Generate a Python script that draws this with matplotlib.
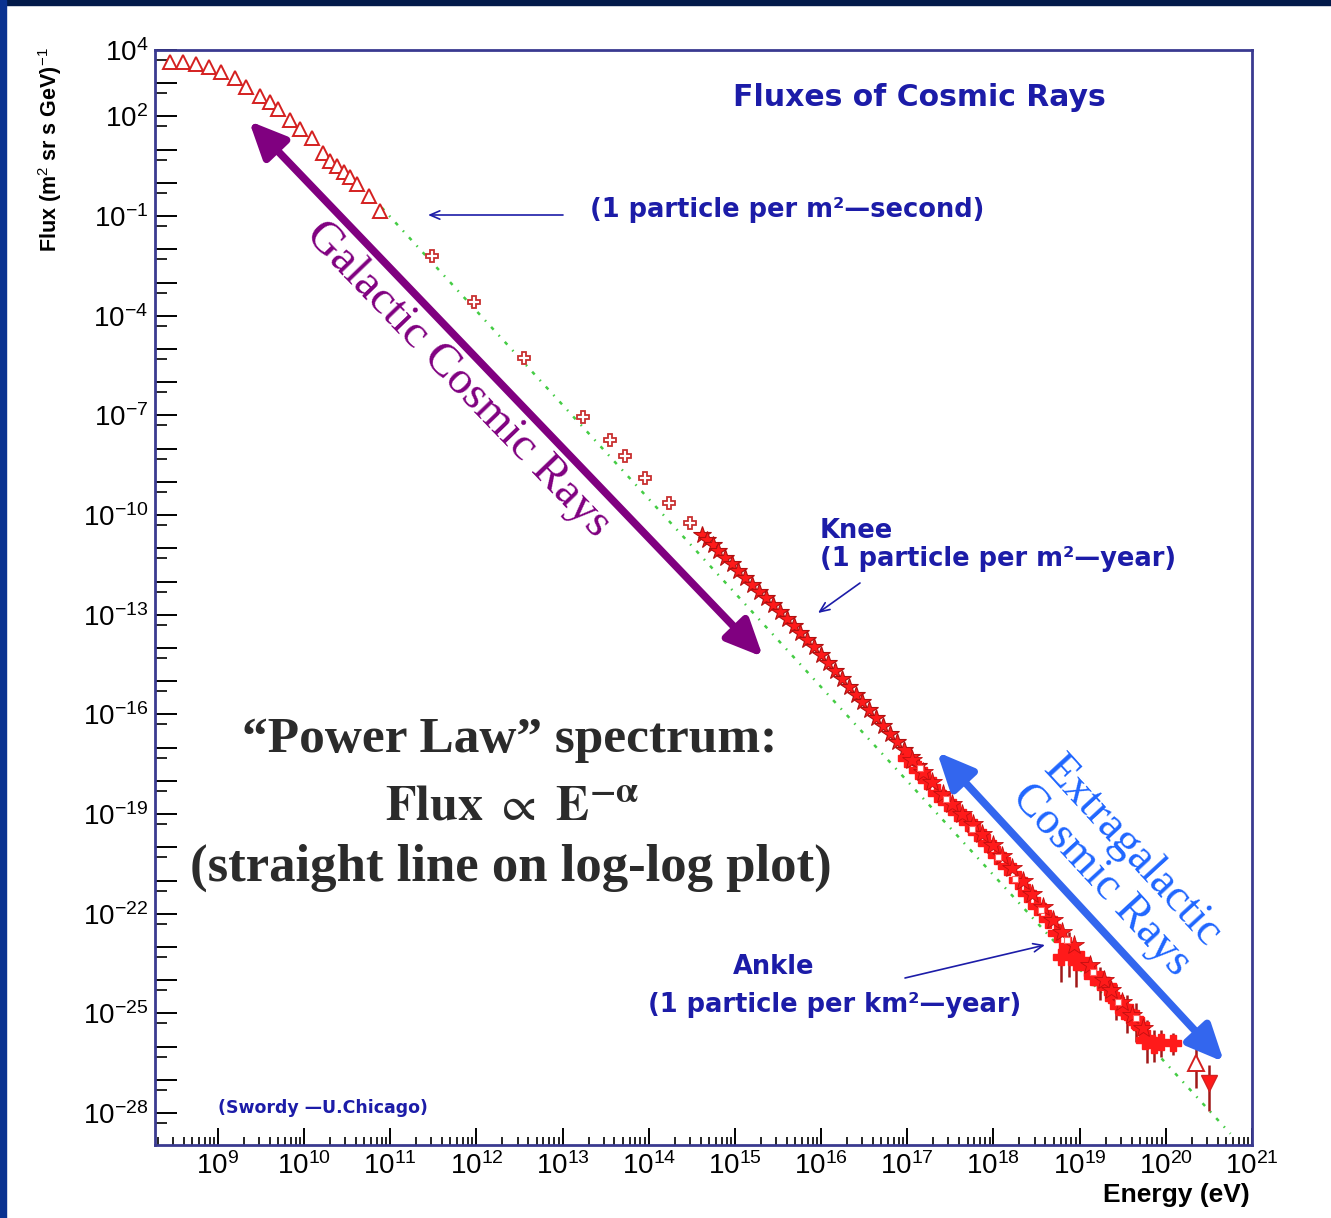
import numpy as np
import matplotlib.pyplot as plt
from matplotlib.patches import Rectangle, FancyArrowPatch
from matplotlib.ticker import LogLocator, FuncFormatter, NullFormatter

plt.rcParams['mathtext.fontset'] = 'custom'
plt.rcParams['mathtext.rm'] = 'Liberation Sans'
plt.rcParams['mathtext.it'] = 'Liberation Sans:italic'
plt.rcParams['mathtext.bf'] = 'Liberation Sans:bold'

W, H = 1331, 1218

# values, as log10(E / eV) and log10(flux)
tri_logE = [8.44, 8.60, 8.75, 8.90, 9.04, 9.20, 9.33, 9.49, 9.60, 9.70, 9.84, 9.95,
            10.09, 10.22, 10.30, 10.38, 10.46, 10.53, 10.61, 10.75, 10.88]
tri_logF = [3.63, 3.65, 3.58, 3.48, 3.33, 3.15, 2.88, 2.62, 2.44, 2.22, 1.90, 1.62,
            1.34, 0.90, 0.66, 0.51, 0.33, 0.17, -0.04, -0.39, -0.84]

cross_logE = [11.48, 11.97, 12.55, 13.24, 13.55, 13.72, 13.96, 14.24, 14.48]
cross_logF = [-2.20, -3.58, -5.26, -7.05, -7.74, -8.22, -8.87, -9.63, -10.23]

star_logE = [14.62, 14.68, 14.74, 14.80, 14.88, 14.96, 15.04, 15.12, 15.20, 15.28,
             15.36, 15.44, 15.52, 15.60, 15.68, 15.76, 15.84, 15.92, 16.00, 16.08,
             16.16, 16.24, 16.32, 16.40, 16.48, 16.56, 16.64, 16.72, 16.80, 16.88,
             16.96, 17.04, 17.12]
star_logF = [-10.60, -10.76, -10.91, -11.07, -11.28, -11.48, -11.69, -11.89, -12.10, -12.30,
             -12.51, -12.72, -12.92, -13.13, -13.34, -13.54, -13.75, -13.97, -14.21, -14.45,
             -14.69, -14.92, -15.16, -15.40, -15.63, -15.87, -16.11, -16.34, -16.58, -16.82,
             -17.06, -17.29, -17.55]

band_logE = [17.00, 17.12, 17.23, 17.35, 17.46, 17.58, 17.70, 17.81, 17.93, 18.04,
             18.16, 18.28, 18.39, 18.51, 18.63, 18.74, 18.86, 19.01, 19.08, 19.16,
             19.24, 19.32, 19.40, 19.46, 19.52, 19.58, 19.64, 19.70, 19.76]
band_logF = [-17.30, -17.66, -17.96, -18.35, -18.65, -18.95, -19.25, -19.55, -19.86, -20.22,
             -20.57, -20.97, -21.36, -21.77, -22.17, -22.57, -22.98, -23.38, -23.60, -23.88,
             -24.00, -24.18, -24.55, -24.79, -24.90, -25.00, -25.20, -25.35, -25.80]

band2_logE = [17.06, 17.18, 17.29, 17.41, 17.52, 17.64, 17.76, 17.87, 17.99, 18.10,
              18.22, 18.34, 18.45, 18.57, 18.69, 18.80, 18.93, 19.12, 19.28, 19.36,
              19.49, 19.61, 19.73]
band2_logF = [-17.38, -17.72, -18.02, -18.40, -18.70, -19.00, -19.30, -19.60, -19.92, -20.25,
              -20.62, -21.00, -21.40, -21.80, -22.20, -22.55, -22.95, -23.55, -24.00, -24.30,
              -24.65, -25.05, -25.45]

open_logE = [17.15, 17.45, 17.75, 18.05, 18.25, 18.55, 18.85, 19.15, 19.45, 19.65]
open_logF = [-17.62, -18.55, -19.45, -20.30, -20.95, -21.90, -22.80, -23.75, -24.65, -25.15]

# points with error bars (errors in dex below / above)
err_logE = [18.78, 18.88, 18.96, 19.24, 19.42, 19.55, 19.65, 19.78, 19.86, 19.94, 20.08]
err_logF = [-23.30, -23.10, -23.45, -24.05, -24.60, -24.95, -25.25, -25.75, -25.95, -25.85, -25.90]
err_dn = [0.75, 0.80, 0.75, 0.55, 0.60, 0.65, 0.60, 0.75, 0.50, 0.45, 0.35]
err_up = [0.40, 0.55, 0.45, 0.45, 0.50, 0.50, 0.55, 0.55, 0.45, 0.35, 0.30]

up_logE, up_logF, up_dn, up_up = [20.35], [-26.50], [0.75], [0.55]
dn_logE, dn_logF, dn_dn, dn_up = [20.50], [-27.10], [0.85], [0.55]

fit_logE = [10.90, 20.75]
fit_logF = [-0.74, -28.62]

y_labeled = [4, 2, -1, -4, -7, -10, -13, -16, -19, -22, -25, -28]


def p10(v):
    return 10.0 ** np.asarray(v)


def dex_err(logF, dn, up):
    return [p10(logF) - p10(np.subtract(logF, dn)),
            p10(np.add(logF, up)) - p10(logF)]


def fx(x):
    return x / W


def fy(y):
    return 1 - y / H


fig = plt.figure(figsize=(W / 100, H / 100), dpi=100, facecolor='white')
ax = fig.add_axes([fx(155), fy(1145), fx(1252) - fx(155), fy(50) - fy(1145)])
ax.set_xscale('log')
ax.set_yscale('log')
ax.set_xlim(10 ** 8.27, 1e21)
ax.set_ylim(10 ** -28.96, 1e4)

red = '#ff1a1a'
dark_red = '#a01818'

ax.plot(p10(fit_logE), p10(fit_logF), color='#44cc44', lw=1.8,
        linestyle=(0, (1.5, 3, 0.6, 3)), zorder=1)

ax.plot(p10(tri_logE), p10(tri_logF), linestyle='none', marker='^', ms=10,
        mfc='white', mec='#d42020', mew=1.4, zorder=3)
ax.plot(p10(cross_logE), p10(cross_logF), linestyle='none', marker='P', ms=9,
        mfc='white', mec='#c83030', mew=1.3, zorder=3)
ax.plot(p10(star_logE), p10(star_logF), linestyle='none', marker='*', ms=13,
        mfc=red, mec='#b01010', mew=0.8, zorder=3)

ax.errorbar(p10(err_logE), p10(err_logF), yerr=dex_err(err_logF, err_dn, err_up),
            fmt='P', ms=11, color=red, mec=red, ecolor=dark_red, elinewidth=1.8,
            capsize=0, zorder=3)
ax.plot(p10(band_logE), p10(band_logF), linestyle='none', marker='P', ms=13,
        mfc=red, mec=red, zorder=4)
ax.plot(p10(band2_logE), p10(band2_logF), linestyle='none', marker='*', ms=15,
        mfc=red, mec='#c01010', mew=0.6, zorder=4)
ax.plot(p10(open_logE), p10(open_logF), linestyle='none', marker='s', ms=4.5,
        mfc='white', mec='#ff6060', mew=0.8, zorder=5)
ax.errorbar(p10(up_logE), p10(up_logF), yerr=dex_err(up_logF, up_dn, up_up),
            fmt='^', ms=11, mfc='white', mec='#d42020', mew=1.4,
            ecolor=dark_red, elinewidth=1.8, zorder=5)
ax.errorbar(p10(dn_logE), p10(dn_logF), yerr=dex_err(dn_logF, dn_dn, dn_up),
            fmt='v', ms=11, color=red, mec='#d42020',
            ecolor=dark_red, elinewidth=1.8, zorder=5)

# ROOT-like axes
for sp in ax.spines.values():
    sp.set_color('#3a3a90')
    sp.set_linewidth(2)

ax.xaxis.set_major_locator(LogLocator(base=10, numticks=30))
ax.xaxis.set_minor_locator(LogLocator(base=10, subs=range(2, 10), numticks=30))
ax.xaxis.set_minor_formatter(NullFormatter())
ax.xaxis.set_major_formatter(FuncFormatter(
    lambda v, pos: r'$10^{%d}$' % round(np.log10(v))))

ax.yaxis.set_major_locator(LogLocator(base=10, numticks=60))
ax.yaxis.set_minor_locator(LogLocator(base=10, subs=[5], numticks=60))
ax.yaxis.set_minor_formatter(NullFormatter())


def ylab(v, pos):
    e = round(np.log10(v))
    return r'$10^{%d}$' % e if e in y_labeled else ''


ax.yaxis.set_major_formatter(FuncFormatter(ylab))

ax.tick_params(axis='x', which='major', direction='in', length=12, width=1.4,
               labelsize=20, pad=5, top=False)
ax.tick_params(axis='x', which='minor', direction='in', length=6, width=1.2, top=False)
ax.tick_params(axis='y', which='major', direction='in', length=16, width=1.4,
               labelsize=20, pad=5, right=False)
ax.tick_params(axis='y', which='minor', direction='in', length=8.5, width=1.2, right=False)

fig.text(fx(1250), fy(1195), 'Energy (eV)', ha='right', va='center',
         fontsize=19, fontweight='bold', family='Liberation Sans')
fig.text(fx(50), fy(150), r'Flux (m$^{2}$ sr s GeV)$^{-1}$', rotation=90,
         ha='center', va='center', fontsize=15.5, fontweight='bold',
         family='Liberation Sans')

# annotations from the original ROOT plot
navy = '#1c1ca8'
fig.text(fx(733), fy(98), 'Fluxes of Cosmic Rays', color=navy, fontsize=21.5,
         fontweight='bold', ha='left', va='center')
fig.text(fx(590), fy(210), '(1 particle per m²—second)', color=navy, fontsize=18.5,
         fontweight='bold', ha='left', va='center')
fig.text(fx(820), fy(531), 'Knee', color=navy, fontsize=18.5, fontweight='bold',
         ha='left', va='center')
fig.text(fx(820), fy(559), '(1 particle per m²—year)', color=navy, fontsize=18.5,
         fontweight='bold', ha='left', va='center')
fig.text(fx(733), fy(967), 'Ankle', color=navy, fontsize=18.5, fontweight='bold',
         ha='left', va='center')
fig.text(fx(648), fy(1005), '(1 particle per km²—year)', color=navy, fontsize=18.5,
         fontweight='bold', ha='left', va='center')
fig.text(fx(218), fy(1108), '(Swordy —U.Chicago)', color=navy, fontsize=12.5,
         fontweight='bold', ha='left', va='center')

for (x0, y0), (x1, y1) in [((563, 215), (428, 215)),
                           ((860, 583), (818, 613)),
                           ((905, 978), (1045, 945))]:
    fig.add_artist(FancyArrowPatch((fx(x0), fy(y0)), (fx(x1), fy(y1)),
                                   transform=fig.transFigure,
                                   arrowstyle='->,head_length=7,head_width=3',
                                   color=navy, lw=1.2, shrinkA=0, shrinkB=0))

# slide overlay
purple = '#800080'
fig.add_artist(FancyArrowPatch((fx(249), fy(121)), (fx(763), fy(657)),
                               transform=fig.transFigure,
                               arrowstyle='<|-|>,head_length=22,head_width=10',
                               color=purple, lw=5.5, shrinkA=0, shrinkB=0))
fig.text(fx(458), fy(380), 'Galactic Cosmic Rays', color=purple, fontsize=34,
         family='Liberation Serif', rotation=-46.1, rotation_mode='anchor',
         ha='center', va='center')

blue = '#3366ee'
fig.add_artist(FancyArrowPatch((fx(937), fy(752)), (fx(1224), fy(1062)),
                               transform=fig.transFigure,
                               arrowstyle='<|-|>,head_length=22,head_width=10',
                               color=blue, lw=5.5, shrinkA=0, shrinkB=0))
fig.text(fx(1117), fy(866), 'Extragalactic\nCosmic Rays', color='#1f66ff',
         fontsize=33, family='Liberation Serif', rotation=-47.4,
         rotation_mode='anchor', ha='center', va='center', multialignment='center',
         linespacing=1.0)

grey = '#2b2b2b'
fig.text(fx(510), fy(740), '“Power Law” spectrum:', color=grey, fontsize=37,
         family='Liberation Serif', fontweight='bold', ha='center', va='center')
fig.text(fx(512), fy(805), r'$\mathbf{Flux}\ \propto\ \mathbf{E}^{\mathbf{-\alpha}}$',
         color=grey, fontsize=36, math_fontfamily='stix', ha='center', va='center')
fig.text(fx(511), fy(868), '(straight line on log-log plot)', color=grey, fontsize=38,
         family='Liberation Serif', fontweight='bold', ha='center', va='center')

# dark slide border on top and left
fig.add_artist(Rectangle((0, fy(5)), 1, 5 / H, transform=fig.transFigure,
                         color='#021a4a', zorder=10))
fig.add_artist(Rectangle((0, 0), 6 / W, 1, transform=fig.transFigure,
                         color='#0a3290', zorder=10))

fig.savefig('out.png', dpi=100, facecolor='white')
